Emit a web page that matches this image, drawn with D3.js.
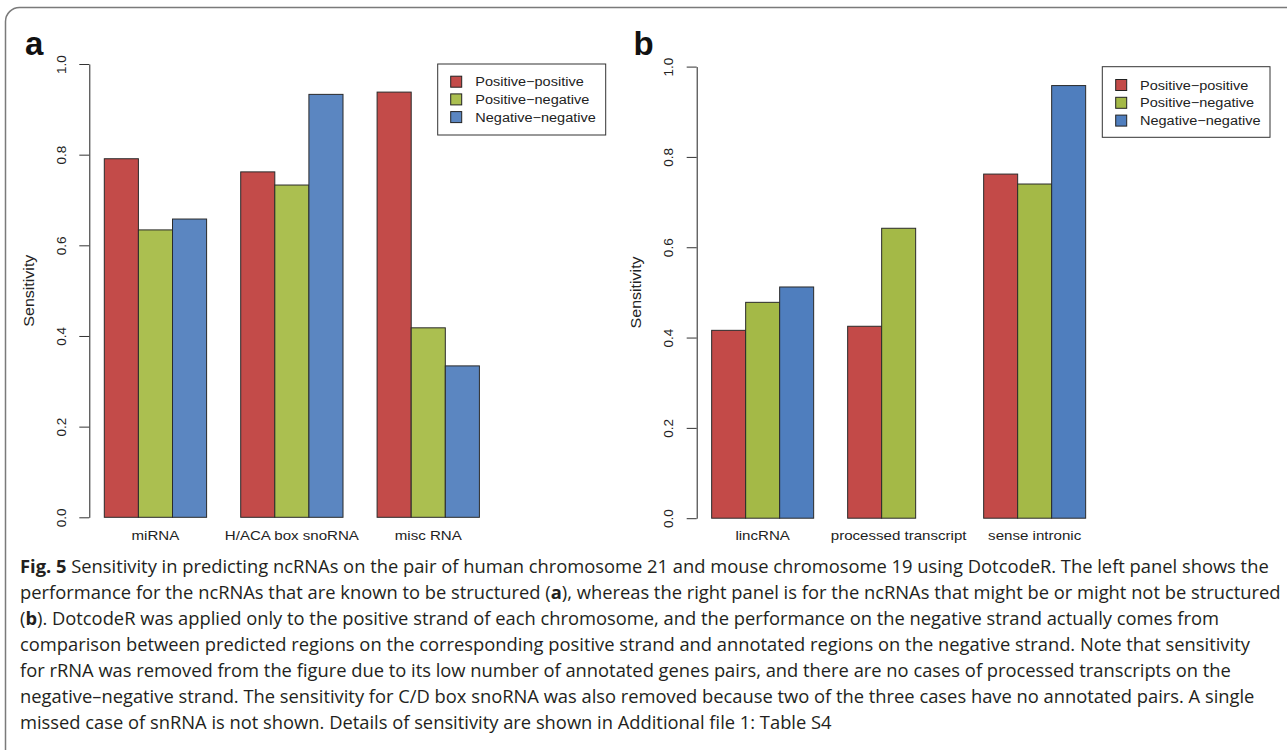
<!DOCTYPE html>
<html>
<head>
<meta charset="utf-8">
<script src="https://cdn.jsdelivr.net/npm/d3@7"></script>
<style>
  html, body { margin: 0; padding: 0; background: #fff; }
  svg { display: block; }
</style>
</head>
<body>
<svg id="chart" width="1287" height="750"></svg>
<script>
// ---------------- data ----------------
const seriesNames = ["Positive\u2212positive", "Positive\u2212negative", "Negative\u2212negative"];
const yTicks = [0, 0.2, 0.4, 0.6, 0.8, 1.0];

const catsA = ["miRNA", "H/ACA box snoRNA", "misc RNA"];
const posPosA = [0.791, 0.762, 0.938];
const posNegA = [0.634, 0.733, 0.418];
const negNegA = [0.658, 0.933, 0.334];

const catsB = ["lincRNA", "processed transcript", "sense intronic"];
const posPosB = [0.416, 0.425, 0.762];
const posNegB = [0.478, 0.642, 0.740];
const negNegB = [0.512, null, 0.958];

const captionLines = [
  [["Fig. 5", true], [" Sensitivity in predicting ncRNAs on the pair of human chromosome 21 and mouse chromosome 19 using DotcodeR. The left panel shows the", false]],
  [["performance for the ncRNAs that are known to be structured (", false], ["a", true], ["), whereas the right panel is for the ncRNAs that might be or might not be structured", false]],
  [["(", false], ["b", true], ["). DotcodeR was applied only to the positive strand of each chromosome, and the performance on the negative strand actually comes from", false]],
  [["comparison between predicted regions on the corresponding positive strand and annotated regions on the negative strand. Note that sensitivity", false]],
  [["for rRNA was removed from the figure due to its low number of annotated genes pairs, and there are no cases of processed transcripts on the", false]],
  [["negative\u2013negative strand. The sensitivity for C/D box snoRNA was also removed because two of the three cases have no annotated pairs. A single", false]],
  [["missed case of snRNA is not shown. Details of sensitivity are shown in Additional file 1: Table S4", false]]
];
const captionRight = [1268, 1273, 1103, 1254, 1226, 1262, 735];

// ---------------- layout ----------------
const svg = d3.select("#chart");
const FONT = "'Liberation Sans', Arial, Helvetica, sans-serif";
const STRETCH = 1.16;

// figure frame
svg.append("rect")
  .attr("x", 5.5).attr("y", 7.5).attr("width", 1400).attr("height", 900)
  .attr("rx", 14).attr("ry", 14)
  .attr("fill", "none").attr("stroke", "#7a7a7a").attr("stroke-width", 1.5);

function stretch(sel, factor) {
  sel.each(function () {
    const w = this.getComputedTextLength();
    d3.select(this).attr("textLength", w * factor).attr("lengthAdjust", "spacingAndGlyphs");
  });
}

function panel(cfg) {
  const g = svg.append("g");
  const y = d3.scaleLinear().domain([0, 1]).range([cfg.y0, cfg.y1]);
  const x = d3.scaleLinear().domain([0.56, 12.44]).range([cfg.axisX, cfg.axisX + 11.88 * cfg.unit]);

  const series = [cfg.pp, cfg.pn, cfg.nn];
  const rows = [];
  cfg.cats.forEach((c, i) => {
    series.forEach((s, j) => {
      if (s[i] !== null && s[i] !== undefined) {
        rows.push({ cat: i, ser: j, v: s[i] });
      }
    });
  });

  g.selectAll("rect.bar").data(rows).enter().append("rect")
    .attr("class", "bar")
    .attr("x", d => x(1 + d.cat * 4 + d.ser))
    .attr("width", d => x(2 + d.cat * 4 + d.ser) - x(1 + d.cat * 4 + d.ser))
    .attr("y", d => y(d.v))
    .attr("height", d => y(0) - y(d.v))
    .attr("fill", d => cfg.colors[d.ser])
    .attr("stroke", "#2a2a2a").attr("stroke-width", 1);

  // y axis
  const ax = g.append("g").attr("transform", `translate(${cfg.axisX},0)`)
    .call(d3.axisLeft(y).tickValues(yTicks).tickFormat(d3.format(".1f")).tickSize(10).tickSizeOuter(0));
  ax.select(".domain").attr("stroke", "#222");
  ax.selectAll(".tick line").attr("stroke", "#333");
  ax.selectAll(".tick text")
    .attr("x", null).attr("dy", null)
    .attr("transform", "translate(-23.3,0) rotate(-90)")
    .attr("text-anchor", "middle")
    .attr("font-family", FONT).attr("font-size", 13.5).attr("fill", "#222");

  // y label
  g.append("text")
    .attr("transform", `translate(${cfg.axisX - 55.3},${(cfg.y0 + cfg.y1) / 2}) rotate(-90)`)
    .attr("text-anchor", "middle")
    .attr("font-family", FONT).attr("font-size", 14).attr("fill", "#222")
    .attr("textLength", 72).attr("lengthAdjust", "spacingAndGlyphs")
    .text("Sensitivity");

  // category labels
  const cl = g.selectAll("text.cat").data(cfg.cats).enter().append("text")
    .attr("class", "cat")
    .attr("x", (d, i) => x(2.5 + i * 4))
    .attr("y", 539.5)
    .attr("text-anchor", "middle")
    .attr("font-family", FONT).attr("font-size", 13).attr("fill", "#222")
    .text(d => d);
  stretch(cl, STRETCH);

  // panel letter
  g.append("text")
    .attr("x", cfg.letterX).attr("y", cfg.letterY)
    .attr("font-family", FONT).attr("font-size", 33).attr("font-weight", "bold").attr("fill", "#111")
    .text(cfg.letter);

  // legend
  const L = cfg.legend;
  g.append("rect")
    .attr("x", L.x).attr("y", L.y).attr("width", L.w).attr("height", L.h)
    .attr("fill", "#fff").attr("stroke", "#333").attr("stroke-width", 1);
  const li = g.selectAll("g.leg").data(seriesNames).enter().append("g")
    .attr("class", "leg")
    .attr("transform", (d, i) => `translate(0,${L.row0 + i * L.dy})`);
  li.append("rect")
    .attr("x", L.sx).attr("y", -5.5).attr("width", 11).attr("height", 11)
    .attr("fill", (d, i) => cfg.colors[i]).attr("stroke", "#222").attr("stroke-width", 1);
  const lt = li.append("text")
    .attr("x", L.tx).attr("y", 4.5)
    .attr("font-family", FONT).attr("font-size", 12.5).attr("fill", "#222")
    .text(d => d);
  stretch(lt, STRETCH);
}

panel({
  letter: "a", letterX: 25, letterY: 54.5,
  cats: catsA, pp: posPosA, pn: posNegA, nn: negNegA,
  colors: ["#C34B49", "#ABBF50", "#5B86C1"],
  axisX: 89.3, unit: 34.1, y0: 517.3, y1: 64,
  legend: { x: 437.7, y: 64, w: 168, h: 71, row0: 81.7, dy: 17.7, sx: 450.7, tx: 475.3 }
});

panel({
  letter: "b", letterX: 633.5, letterY: 55,
  cats: catsB, pp: posPosB, pn: posNegB, nn: negNegB,
  colors: ["#C34A48", "#A4B947", "#4F7EBE"],
  axisX: 696.7, unit: 34.0, y0: 518.2, y1: 66.6,
  legend: { x: 1102.3, y: 66.7, w: 167.7, h: 70.6, row0: 85, dy: 17.8, sx: 1115.7, tx: 1140 }
});

// ---------------- caption ----------------
const CAPFONT = "'Open Sans', 'Noto Sans', sans-serif";
const capG = svg.append("g");
const capTexts = [];
captionLines.forEach((runs, i) => {
  const t = capG.append("text")
    .attr("x", 20).attr("y", 573.5 + i * 26)
    .attr("font-family", CAPFONT).attr("font-size", 18.5).attr("fill", "#231f20");
  runs.forEach(r => {
    t.append("tspan").attr("font-weight", r[1] ? "bold" : "normal").text(r[0]);
  });
  capTexts.push(t);
});
// one common horizontal condensing factor, from the full-width lines
const ratios = [0, 1, 3, 5].map(i => (captionRight[i] - 20) / capTexts[i].node().getComputedTextLength());
const kCap = d3.mean(ratios);
capTexts.forEach(t => t.attr("transform", `translate(20,0) scale(${kCap},1) translate(-20,0)`));
</script>
</body>
</html>
